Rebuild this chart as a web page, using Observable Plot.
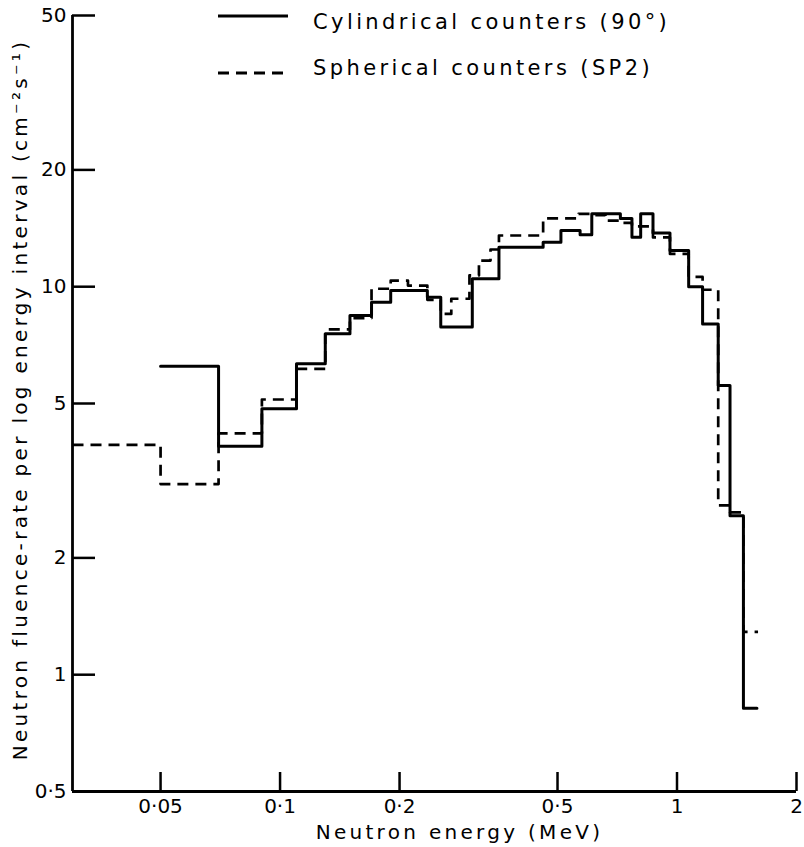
<!DOCTYPE html>
<html><head><meta charset="utf-8">
<script src="https://cdn.jsdelivr.net/npm/d3@7"></script>
<script src="https://cdn.jsdelivr.net/npm/@observablehq/plot@0.6"></script>
<style>
body{margin:0;background:#fff;}
#wrap{position:relative;width:804px;height:847px;font-family:"DejaVu Sans",sans-serif;}
#legend{position:absolute;left:0;top:0;}
</style></head><body><div id="wrap"></div>
<script>
// ---- data ----
const xTicks = [0.05, 0.1, 0.2, 0.5, 1, 2];
const xTickLabels = ["0·05", "0·1", "0·2", "0·5", "1", "2"];
const yTicks = [0.5, 1, 2, 5, 10, 20, 50];
const yTickLabels = ["0·5", "1", "2", "5", "10", "20", "50"];
const xDomain = [0.03, 2];
const yDomain = [0.5, 50];

// Cylindrical counters (90°): bin edges (MeV) and fluence-rate per bin
const cylEdges  = [0.05, 0.07, 0.09, 0.11, 0.13, 0.15, 0.17, 0.19, 0.235, 0.254, 0.305, 0.356, 0.46, 0.51, 0.57, 0.61, 0.72, 0.77, 0.81, 0.87, 0.96, 1.07, 1.16, 1.27, 1.36, 1.47, 1.59];
const cylValues = [6.24, 3.88, 4.85, 6.33, 7.56, 8.43, 9.12, 9.77, 9.40, 7.87, 10.48, 12.64, 13.02, 13.96, 13.61, 15.41, 15.0, 13.41, 15.41, 13.75, 12.4, 10.0, 8.02, 5.56, 2.57, 0.82];

// Spherical counters (SP2)
const sphEdges  = [0.03, 0.05, 0.07, 0.09, 0.11, 0.13, 0.15, 0.17, 0.19, 0.21, 0.235, 0.254, 0.27, 0.30, 0.317, 0.339, 0.356, 0.46, 0.565, 0.61, 0.66, 0.72, 0.77, 0.87, 0.96, 1.07, 1.16, 1.27, 1.36, 1.47, 1.6];
const sphValues = [3.91, 3.10, 4.19, 5.12, 6.14, 7.76, 8.30, 9.88, 10.37, 10.07, 9.25, 8.51, 9.31, 10.69, 11.68, 12.47, 13.55, 15.0, 15.41, 15.3, 14.8, 14.6, 14.3, 13.4, 12.15, 10.6, 9.82, 2.73, 2.62, 1.29];

const seriesNames = ["Cylindrical counters (90°)", "Spherical counters (SP2)"];
const xLabel = "Neutron energy (MeV)";
const yLabel = "Neutron fluence-rate per log energy interval (cm⁻²s⁻¹)";

// ---- build ----
function steps(edges, values) {
  const pts = values.map((v, i) => ({x: edges[i], y: v}));
  pts.push({x: edges[edges.length - 1], y: values[values.length - 1]});
  return pts;
}
const xFmt = new Map(xTicks.map((d, i) => [d, xTickLabels[i]]));
const yFmt = new Map(yTicks.map((d, i) => [d, yTickLabels[i]]));

const W = 804, H = 847, mL = 72, mR = 8, mT = 15, mB = 56;
const font = '"DejaVu Sans", sans-serif';

const chart = Plot.plot({
  width: W, height: H,
  marginLeft: mL, marginRight: mR, marginTop: mT, marginBottom: mB,
  style: {fontFamily: font, fontSize: "20px", background: "white", color: "black", overflow: "visible"},
  x: {type: "log", domain: xDomain, ticks: xTicks, tickFormat: d => xFmt.get(d), tickSize: 0, tickPadding: 7, label: null},
  y: {type: "log", domain: yDomain, ticks: yTicks, tickFormat: d => yFmt.get(d), tickSize: 0, tickPadding: 6, label: null},
  marks: [
    Plot.tickY(yTicks, {y: d => d, insetRight: (W - mL - mR) - 23, stroke: "black", strokeWidth: 2.5}),
    Plot.tickX(xTicks, {x: d => d, insetTop: (H - mT - mB) - 19, stroke: "black", strokeWidth: 2.5}),
    Plot.ruleX([xDomain[0]], {stroke: "black", strokeWidth: 2.8}),
    Plot.ruleY([yDomain[0]], {stroke: "black", strokeWidth: 2.8}),
    Plot.line(steps(sphEdges, sphValues), {x: "x", y: "y", curve: "step-after", stroke: "black", strokeWidth: 2.7, strokeDasharray: "11,7", strokeLinecap: "butt"}),
    Plot.line(steps(cylEdges, cylValues), {x: "x", y: "y", curve: "step-after", stroke: "black", strokeWidth: 3}),
    Plot.text([xLabel], {text: d => d, frameAnchor: "bottom", textAnchor: "middle", dx: 25, dy: 41, fontSize: 20, lineAnchor: "middle"}),
    Plot.text([yLabel], {text: d => d, frameAnchor: "left", textAnchor: "middle", rotate: -90, dx: -52, dy: -4, fontSize: 20, lineAnchor: "middle"})
  ]
});

const wrap = document.getElementById("wrap");
wrap.appendChild(chart);
const sel = d3.select(chart);
sel.selectAll('g[aria-label="text"] text').style("letter-spacing", "3.3px");

// ---- legend (overlay) ----
const leg = d3.select(wrap).append("svg").attr("id", "legend").attr("width", W).attr("height", 100)
  .style("font-family", font);
const rows = [
  {name: seriesNames[0], dash: null, ly: 16, ty: 29},
  {name: seriesNames[1], dash: "11,7", ly: 73, ty: 75}
];
rows.forEach(r => {
  leg.append("line").attr("x1", 218).attr("x2", 288).attr("y1", r.ly).attr("y2", r.ly)
    .attr("stroke", "black").attr("stroke-width", 2.8).attr("stroke-dasharray", r.dash);
  leg.append("text").attr("x", 313).attr("y", r.ty).attr("font-size", 21)
    .style("letter-spacing", "3.4px").text(r.name);
});
</script></body></html>
